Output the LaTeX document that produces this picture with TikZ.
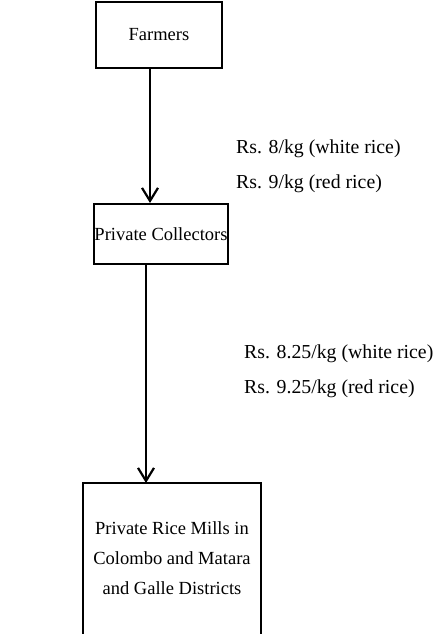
\documentclass[tikz,border=0pt]{standalone}
\usepackage{fontspec}
\setmainfont{Liberation Serif}
\usetikzlibrary{arrows.meta}
\begin{document}
\begin{tikzpicture}[x=1pt,y=-1pt,
  flowbox/.style={draw, line width=2pt, inner sep=0pt, align=center,
    font=\fontsize{18.5}{30}\selectfont},
  flowarrow/.style={line width=2.8pt,
    -{Straight Barb[length=13pt,width=16pt,line width=2.2pt]}},
  price/.style={anchor=west, align=left, inner sep=0pt,
    font=\fontsize{19.8}{35}\selectfont}]
\useasboundingbox (0,0) rectangle (436,634);

% boxes
\node[flowbox, minimum width=126pt, minimum height=65pt] (farmers) at (159,35) {Farmers};
\node[flowbox, minimum width=134pt, minimum height=60pt] (collectors) at (161,234) {Private Collectors};
\node[flowbox, draw=none, minimum width=176pt, minimum height=148pt] (mills) at (172,558)
  {Private Rice Mills in\\Colombo and Matara\\and Galle Districts};
% the lowest box runs off the bottom edge
\draw[line width=2pt] ([yshift=-6pt]mills.south west) -- (mills.north west)
  -- (mills.north east) -- ([yshift=-6pt]mills.south east);

% arrow columns
\coordinate (colA) at (150,0);
\coordinate (colB) at (146,0);
\draw[flowarrow] (farmers.south -| colA) -- (collectors.north -| colA);
\draw[flowarrow] (collectors.south -| colB) -- (mills.north -| colB);

% prices
\node[price] (p1) at (236,166) {Rs. 8/kg (white rice)\\Rs. 9/kg (red rice)};
\node[price] (p2) at (244,371) {Rs. 8.25/kg (white rice)\\Rs. 9.25/kg (red rice)};
\end{tikzpicture}
\end{document}
